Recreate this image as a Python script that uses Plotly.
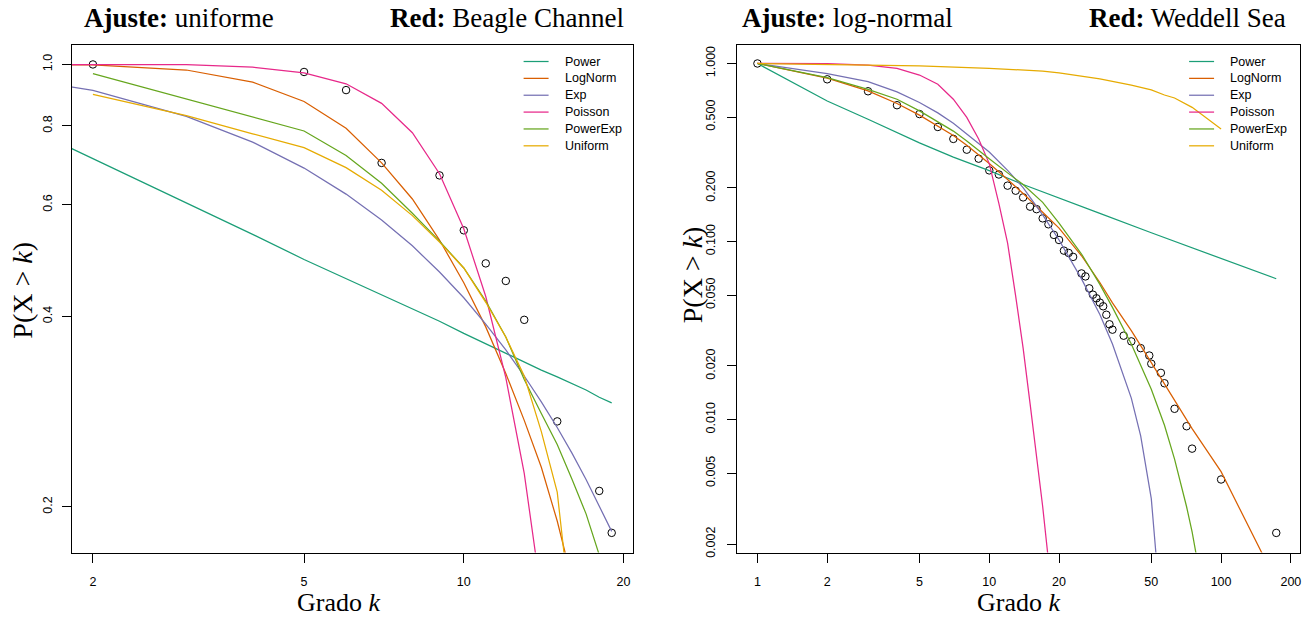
import plotly.graph_objects as go

W, H = 1313, 623

# ---------------- Beagle Channel (left panel) ----------------
beagle_k = [2, 5, 6, 7, 9, 10, 11, 12, 13, 15, 18, 19]
beagle_p = [1.0, 0.973, 0.911, 0.699, 0.668, 0.547, 0.485, 0.455, 0.395, 0.273, 0.212, 0.182]

beagle_power_k = [1, 2, 3, 4, 5, 6, 7, 8, 9, 10, 11, 12, 13, 14, 15, 16, 17, 18, 19]
beagle_power = [0.935, 0.710, 0.605, 0.539, 0.492, 0.459, 0.433, 0.411, 0.393, 0.376,
                0.362, 0.350, 0.339, 0.329, 0.321, 0.313, 0.306, 0.298, 0.292]

beagle_lognorm_k = [1, 2, 3, 4, 5, 6, 7, 8, 9, 10, 11, 12, 13, 14, 15, 16, 17]
beagle_lognorm = [1.0, 0.998, 0.980, 0.938, 0.874, 0.793, 0.699, 0.613, 0.528, 0.452,
                  0.385, 0.325, 0.274, 0.231, 0.190, 0.155, 0.125]

beagle_exp_k = [1, 2, 3, 4, 5, 6, 7, 8, 9, 10, 11, 12, 13, 14, 15, 16, 17, 18, 19]
beagle_exp = [1.0, 0.910, 0.828, 0.754, 0.686, 0.624, 0.568, 0.517, 0.470, 0.428,
              0.389, 0.354, 0.322, 0.293, 0.267, 0.243, 0.221, 0.201, 0.183]

beagle_poisson_k = [1, 2, 3, 4, 5, 6, 7, 8, 9, 10, 11, 12, 13, 14, 15]
beagle_poisson = [1.0, 1.0, 0.999, 0.990, 0.970, 0.932, 0.868, 0.780, 0.672, 0.550,
                  0.430, 0.320, 0.226, 0.145, 0.088]

beagle_powerexp_k = [2, 3, 4, 5, 6, 7, 8, 9, 10, 11, 12, 13, 14, 15, 16, 17, 18, 19]
beagle_powerexp = [0.967, 0.882, 0.825, 0.785, 0.718, 0.649, 0.582, 0.526, 0.477, 0.423,
                   0.371, 0.318, 0.281, 0.251, 0.221, 0.195, 0.168, 0.140]

beagle_uniform_k = [2, 3, 4, 5, 6, 7, 8, 9, 10, 11, 12, 13, 14, 15, 16]
beagle_uniform = [0.897, 0.830, 0.777, 0.739, 0.687, 0.633, 0.577, 0.524, 0.477, 0.421,
                  0.371, 0.322, 0.263, 0.211, 0.130]

# ---------------- Weddell Sea (right panel) ----------------
weddell_k = [1, 2, 3, 4, 5, 6, 7, 8, 9, 10, 11, 12, 13, 14, 15, 16, 17, 18, 19, 20,
             21, 22, 23, 25, 26, 27, 28, 29, 30, 31, 32, 33, 34, 38, 41, 45, 49, 50,
             55, 57, 63, 71, 75, 100, 173]
weddell_p = [1.0, 0.815, 0.698, 0.583, 0.520, 0.440, 0.377, 0.328, 0.292, 0.251,
             0.238, 0.206, 0.193, 0.177, 0.157, 0.152, 0.135, 0.125, 0.109, 0.102,
             0.0889, 0.0863, 0.0820, 0.0662, 0.0637, 0.0546, 0.0503, 0.0480, 0.0454, 0.0433,
             0.0388, 0.0343, 0.0320, 0.0296, 0.0275, 0.0252, 0.0229, 0.0206, 0.0183, 0.0160,
             0.0115, 0.00918, 0.00687, 0.00461, 0.00231]

weddell_power_k = [1, 2, 3, 4, 5, 7, 10, 14, 20, 30, 50, 75, 100, 173]
weddell_power = [1.0, 0.616, 0.486, 0.408, 0.358, 0.298, 0.250, 0.209, 0.176, 0.144,
                 0.112, 0.0925, 0.0805, 0.0618]

weddell_lognorm_k = [1, 2, 3, 4, 5, 6, 7, 8, 9, 10, 12, 14, 17, 20, 25, 30, 34, 41,
                     50, 57, 63, 75, 100, 173]
weddell_lognorm = [1.0, 0.828, 0.701, 0.596, 0.513, 0.447, 0.394, 0.347, 0.308, 0.274,
                   0.223, 0.186, 0.146, 0.119, 0.0832, 0.0589, 0.0452, 0.0316,
                   0.0209, 0.0158, 0.0129, 0.0089, 0.0051, 0.00123]

weddell_exp_k = [1, 2, 3, 4, 5, 6, 7, 8, 9, 10, 12, 14, 17, 20, 25, 30, 34, 41, 45,
                 49, 50, 55]
weddell_exp = [1.0, 0.876, 0.791, 0.692, 0.604, 0.528, 0.462, 0.403, 0.357, 0.318,
               0.251, 0.201, 0.141, 0.102, 0.0617, 0.0389, 0.0266, 0.0132, 0.0081,
               0.0043, 0.0036, 0.00083]

weddell_poisson_k = [1, 2, 3, 4, 5, 6, 7, 8, 9, 10, 11, 12, 13, 14, 15, 16, 17, 18, 19]
weddell_poisson = [1.0, 0.999, 0.979, 0.938, 0.861, 0.764, 0.630, 0.498, 0.377, 0.274,
                   0.164, 0.098, 0.0494, 0.0252, 0.0123, 0.0063, 0.00325, 0.00162, 0.00079]

weddell_powerexp_k = [1, 2, 3, 4, 5, 6, 7, 8, 9, 10, 12, 14, 17, 20, 25, 30, 34, 41,
                      50, 57, 63, 71, 75, 100]
weddell_powerexp = [1.0, 0.832, 0.716, 0.630, 0.542, 0.473, 0.417, 0.367, 0.327, 0.292,
                    0.243, 0.209, 0.166, 0.127, 0.0851, 0.0575, 0.0427, 0.0266,
                    0.0148, 0.0093, 0.0060, 0.00324, 0.00234, 0.000295]

weddell_uniform_k = [1, 3, 5, 10, 17, 20, 27, 30, 41, 45, 50, 57, 63, 75, 100]
weddell_uniform = [1.0, 0.982, 0.970, 0.940, 0.905, 0.885, 0.835, 0.820, 0.755, 0.735,
                   0.710, 0.665, 0.640, 0.567, 0.429]

# tick labels
beagle_xticks = [2, 5, 10, 20]
beagle_yticks = [0.2, 0.4, 0.6, 0.8, 1.0]
beagle_yticktext = ["0.2", "0.4", "0.6", "0.8", "1.0"]
weddell_xticks = [1, 2, 5, 10, 20, 50, 100, 200]
weddell_yticks = [0.002, 0.005, 0.01, 0.02, 0.05, 0.1, 0.2, 0.5, 1.0]
weddell_yticktext = ["0.002", "0.005", "0.010", "0.020", "0.050", "0.100", "0.200",
                     "0.500", "1.000"]

model_names = ["Power", "LogNorm", "Exp", "Poisson", "PowerExp", "Uniform"]
model_colors = ["#1B9E77", "#D95F02", "#7570B3", "#E7298A", "#66A61E", "#E6AB02"]

beagle_fits = [(beagle_power_k, beagle_power), (beagle_lognorm_k, beagle_lognorm),
               (beagle_exp_k, beagle_exp), (beagle_poisson_k, beagle_poisson),
               (beagle_powerexp_k, beagle_powerexp), (beagle_uniform_k, beagle_uniform)]
weddell_fits = [(weddell_power_k, weddell_power), (weddell_lognorm_k, weddell_lognorm),
                (weddell_exp_k, weddell_exp), (weddell_poisson_k, weddell_poisson),
                (weddell_powerexp_k, weddell_powerexp), (weddell_uniform_k, weddell_uniform)]

SANS = "Liberation Sans, Arial, sans-serif"
SERIF = "Liberation Serif, Times New Roman, serif"

fig = go.Figure()


def add_panel(k_obs, p_obs, fits, xa, ya):
    fig.add_trace(go.Scatter(
        x=k_obs, y=p_obs, mode="markers", xaxis=xa, yaxis=ya, showlegend=False,
        marker=dict(symbol="circle-open", size=7.5, color="black",
                    line=dict(width=1, color="black")),
    ))
    for (kx, py), name, col in zip(fits, model_names, model_colors):
        fig.add_trace(go.Scatter(
            x=kx, y=py, mode="lines", name=name, xaxis=xa, yaxis=ya,
            showlegend=False, line=dict(color=col, width=1.25),
        ))


add_panel(beagle_k, beagle_p, beagle_fits, "x", "y")
add_panel(weddell_k, weddell_p, weddell_fits, "x2", "y2")

# plot-area geometry in pixels
L_X0, L_X1 = 72, 633
R_X0, R_X1 = 737.5, 1301
Y_TOP, Y_BOT = 45, 557
ydom = [1 - Y_BOT / H, 1 - Y_TOP / H]

axis_common = dict(
    type="log", showgrid=False, zeroline=False, showline=True, mirror=True,
    linecolor="black", linewidth=1, ticks="outside", ticklen=9, tickwidth=1,
    tickcolor="black", tickfont=dict(family=SANS, size=12.5, color="black"),
)

fig.update_layout(
    width=W, height=H, margin=dict(l=0, r=0, t=0, b=0),
    paper_bgcolor="white", plot_bgcolor="white", showlegend=False,
    xaxis=dict(axis_common, domain=[L_X0 / W, L_X1 / W], range=[0.2615, 1.318],
               tickvals=beagle_xticks, ticktext=[str(v) for v in beagle_xticks],
               ticklabelstandoff=8, anchor="y"),
    yaxis=dict(axis_common, domain=ydom, range=[-0.771, 0.0313],
               tickvals=beagle_yticks, ticktext=beagle_yticktext, tickangle=-90,
               ticklabelstandoff=5, anchor="x"),
    xaxis2=dict(axis_common, domain=[R_X0 / W, R_X1 / W], range=[-0.0884, 2.3405],
                tickvals=weddell_xticks, ticktext=[str(v) for v in weddell_xticks],
                ticklabelstandoff=8, anchor="y2"),
    yaxis2=dict(axis_common, domain=ydom, range=[-2.7465, 0.1058],
                tickvals=weddell_yticks, ticktext=weddell_yticktext, tickangle=-90,
                ticklabelstandoff=7, anchor="x2"),
)

annotations = []
shapes = []


def px_ann(text, x, y, size, family, xanchor="center", angle=0):
    annotations.append(dict(
        text=text, x=x / W, y=1 - y / H, xref="paper", yref="paper",
        xanchor=xanchor, yanchor="middle", showarrow=False, textangle=angle,
        font=dict(family=family, size=size, color="black"),
    ))


# panel headings
px_ann("<b>Ajuste:</b> uniforme", 82, 18, 27, SERIF, "left")
px_ann("<b>Red:</b> Beagle Channel", 626, 18, 27, SERIF, "right")
px_ann("<b>Ajuste:</b> log-normal", 741, 18, 27, SERIF, "left")
px_ann("<b>Red:</b> Weddell Sea", 1289, 18, 27, SERIF, "right")

# axis titles
px_ann("Grado <i>k</i>", 339, 607, 26, SERIF)
px_ann("Grado <i>k</i>", 1019, 607, 26, SERIF)
px_ann("P(X &gt; <i>k</i>)", 23, 292, 28, SERIF, angle=-90)
px_ann("P(X &gt; <i>k</i>)", 693, 277, 28, SERIF, angle=-90)

# legends (line sample + label for each model)
legend_rows = [62, 79, 96, 113, 130, 147]
for (x0, x1, xt) in [(524, 549, 563), (1190, 1215, 1229)]:
    for yrow, name, col in zip(legend_rows, model_names, model_colors):
        shapes.append(dict(type="line", xref="paper", yref="paper",
                           x0=x0 / W, x1=x1 / W, y0=1 - yrow / H, y1=1 - yrow / H,
                           line=dict(color=col, width=1.25)))
        px_ann(name, xt, yrow, 12.5, SANS, "left")

fig.update_layout(annotations=annotations, shapes=shapes)

fig.write_html("out.html")
